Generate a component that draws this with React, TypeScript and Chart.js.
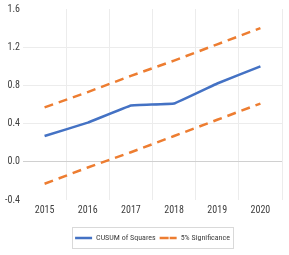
import React, { useEffect, useRef } from "react";
import { Chart, registerables } from "chart.js";

Chart.register(...registerables);

const years = ["2015", "2016", "2017", "2018", "2019", "2020"];
const cusum = [0.27, 0.41, 0.59, 0.61, 0.82, 1.0];
const upper = [0.57, 0.73, 0.9, 1.06, 1.23, 1.4];
const lower = [-0.23, -0.06, 0.1, 0.27, 0.44, 0.61];
const yTicks = [-0.4, 0.0, 0.4, 0.8, 1.2, 1.6];

const FONT = "'Roboto Condensed', 'DejaVu Sans Condensed', sans-serif";

const legendBox = {
  id: "legendBox",
  afterDraw(chart: any) {
    const lg = chart.legend;
    if (!lg || !lg.legendHitBoxes || !lg.legendHitBoxes.length) return;
    const boxes = lg.legendHitBoxes;
    let l = Infinity, r = -Infinity, t = Infinity, b = -Infinity;
    for (const h of boxes) {
      l = Math.min(l, h.left);
      r = Math.max(r, h.left + h.width);
      t = Math.min(t, h.top);
      b = Math.max(b, h.top + h.height);
    }
    const ctx = chart.ctx;
    ctx.save();
    ctx.strokeStyle = "#d9d9d9";
    ctx.lineWidth = 1;
    const cy = (t + b) / 2;
    ctx.strokeRect(Math.round(l - 3) + 0.5, Math.round(cy - 11) + 0.5, Math.round(r - l + 6), 21);
    ctx.restore();
  },
};

export default function App() {
  const ref = useRef<HTMLCanvasElement>(null);
  useEffect(() => {
    document.body.style.margin = "0";
    const chart = new Chart(ref.current!, {
      type: "line",
      data: {
        labels: years,
        datasets: [
          {
            label: "CUSUM of Squares",
            data: cusum,
            borderColor: "#4472C4",
            backgroundColor: "#4472C4",
            borderWidth: 2.5,
            pointRadius: 0,
            tension: 0.05,
          },
          {
            label: "5% Significance",
            data: upper,
            borderColor: "#ED7D31",
            backgroundColor: "#ED7D31",
            borderWidth: 2.5,
            borderDash: [9, 6],
            pointRadius: 0,
          },
          {
            label: "5% Significance lower",
            data: lower,
            borderColor: "#ED7D31",
            backgroundColor: "#ED7D31",
            borderWidth: 2.5,
            borderDash: [9, 6],
            pointRadius: 0,
          },
        ],
      },
      options: {
        animation: false,
        responsive: false,
        layout: { padding: { left: 2, right: 7, top: 9, bottom: 3 } },
        plugins: {
          tooltip: { enabled: false },
          legend: {
            position: "bottom",
            fullSize: false,
            labels: {
              filter: (item: any) => item.datasetIndex < 2,
              font: { family: FONT, size: 8 },
              color: "#404040",
              boxWidth: 17,
              boxHeight: 0,
              padding: 4,
              generateLabels: (chart: any) => {
                const items = Chart.defaults.plugins.legend.labels.generateLabels(chart);
                return items.map((it: any) => ({ ...it, lineWidth: 2.5 }));
              },
            },
          },
        },
        scales: {
          x: {
            offset: true,
            afterFit: (axis: any) => {
              axis.height += 10;
            },
            grid: {
              offset: true,
              color: (c: any) => (c.index === 0 || c.index === 6 ? "rgba(0,0,0,0)" : "#ececec"),
              drawTicks: false,
            },
            border: { display: false },
            ticks: {
              font: { family: FONT, size: 10 },
              color: "#404040",
              padding: 4,
            },
          },
          y: {
            min: -0.4,
            max: 1.6,
            afterBuildTicks: (axis: any) => {
              axis.ticks = yTicks.map((v) => ({ value: v }));
            },
            grid: {
              color: (c: any) => {
                const v = c.tick?.value;
                if (v === 0) return "#d0d0d0";
                if (v === -0.4 || v === 1.6) return "rgba(0,0,0,0)";
                return "#ececec";
              },
              drawTicks: false,
            },
            border: { display: false },
            ticks: {
              font: { family: FONT, size: 10 },
              color: "#404040",
              padding: 3,
              callback: (v: any) => Number(v).toFixed(1),
            },
          },
        },
      },
      plugins: [legendBox],
    });
    return () => chart.destroy();
  }, []);
  return <canvas ref={ref} width={289} height={255} style={{ display: "block" }} />;
}
